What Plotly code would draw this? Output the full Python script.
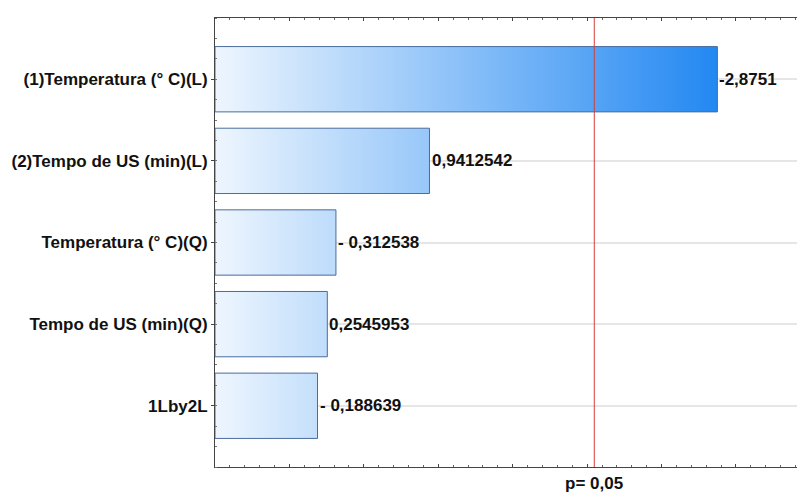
import plotly.graph_objects as go

# Standardized effect estimates (absolute value drawn as bar length)
factors = [
    "(1)Temperatura (° C)(L)",
    "(2)Tempo de US (min)(L)",
    "Temperatura (° C)(Q)",
    "Tempo de US (min)(Q)",
    "1Lby2L",
]
effects = [-2.8751, 0.9412542, -0.312538, 0.2545953, -0.188639]
effect_labels = ["-2,8751", "0,9412542", "- 0,312538", "0,2545953", "- 0,188639"]

# critical t value for p = 0.05
t_crit = 2.048
crit_label = "p= 0,05"

x_min, x_max = -0.5, 3.41
bar_half = 0.4
font_family = "Arial, Liberation Sans, sans-serif"
text_color = "#111111"
font_size = 17

grad_scale = [
    [0.0, "#eef6fe"],
    [1.0, "#2388f2"],
]
grad_stop = max(abs(v) for v in effects)

fig = go.Figure()

for i, v in enumerate(effects):
    length = abs(v)
    xs = [x_min, length, length, x_min, x_min]
    ys = [i - bar_half, i - bar_half, i + bar_half, i + bar_half, i - bar_half]
    fig.add_trace(go.Scatter(
        x=xs, y=ys, mode="lines", fill="toself",
        fillgradient=dict(type="horizontal", colorscale=grad_scale,
                          start=x_min, stop=grad_stop),
        line=dict(color="#4b6c9e", width=1),
        hoverinfo="skip", showlegend=False,
    ))
    fig.add_annotation(
        x=length, y=i, text=effect_labels[i], xref="x", yref="y",
        xanchor="left", yanchor="middle", xshift=0, showarrow=False,
        font=dict(family=font_family, size=font_size, color=text_color, weight="bold"),
    )

# significance threshold line and its label
fig.add_shape(type="line", x0=t_crit, x1=t_crit, y0=0, y1=1,
              xref="x", yref="y domain", line=dict(color="#d43f3a", width=1))
fig.add_annotation(
    x=t_crit, y=0, xref="x", yref="paper", text=crit_label,
    xanchor="center", yanchor="top", yshift=-5, showarrow=False,
    font=dict(family=font_family, size=font_size, color=text_color, weight="bold"),
)

fig.update_xaxes(
    range=[x_min, x_max], showgrid=False, zeroline=False,
    showline=True, linecolor="#444444", linewidth=1, mirror="ticks",
    ticks="inside", ticklen=3, tickwidth=1, tickcolor="#444444",
    dtick=0.5, tick0=0, showticklabels=False,
    minor=dict(ticks="inside", ticklen=2, dtick=0.1, tickcolor="#666666"),
)
fig.update_yaxes(
    range=[len(factors) - 0.25, -0.75], autorange=False,
    tickvals=list(range(len(factors))), ticktext=factors,
    showgrid=True, gridcolor="#e6e6e6", gridwidth=2, zeroline=False,
    showline=True, linecolor="#444444", linewidth=1, mirror=False,
    ticks="outside", ticklen=3, tickcolor="#444444",
    tickfont=dict(family=font_family, size=font_size, color=text_color, weight="bold"),
    minor=dict(ticks="inside", ticklen=2, dtick=0.25, tick0=0, tickcolor="#777777", showgrid=False),
)

fig.update_layout(
    width=797, height=492,
    margin=dict(l=215, r=0, t=18, b=25),
    plot_bgcolor="white", paper_bgcolor="white",
    showlegend=False,
)

fig.write_html("out.html")
